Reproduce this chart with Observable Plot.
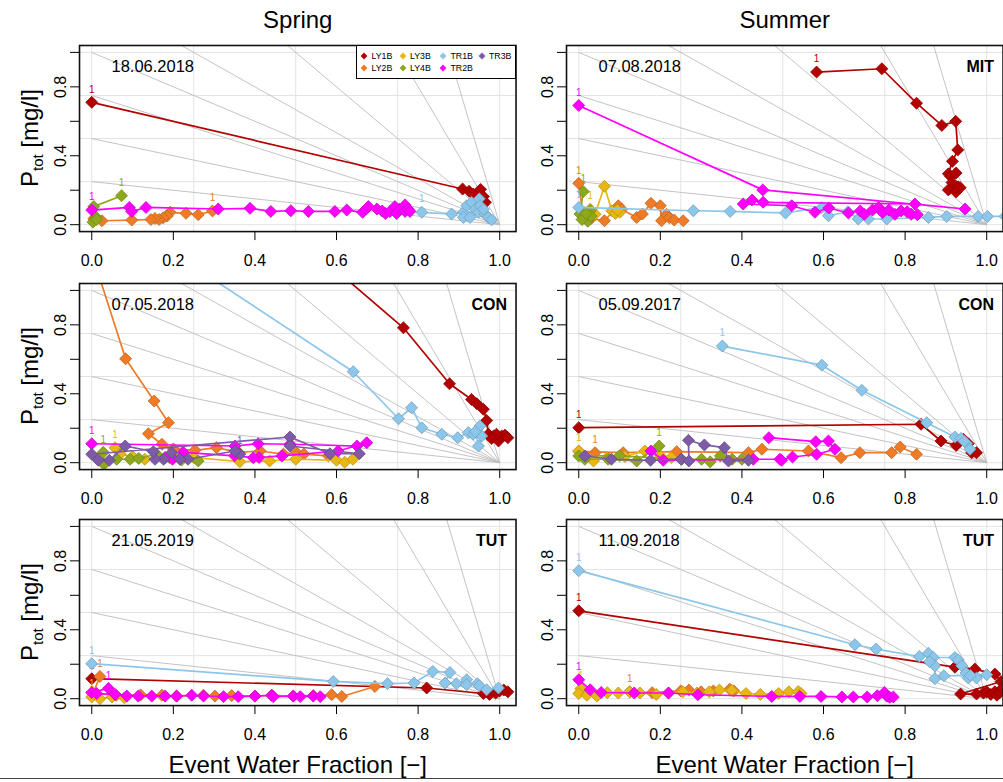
<!DOCTYPE html>
<html><head><meta charset="utf-8">
<script src="https://cdn.jsdelivr.net/npm/d3@7"></script>
<script src="https://cdn.jsdelivr.net/npm/@observablehq/plot@0.6"></script>
<style>
html,body{margin:0;padding:0;background:#fff;}
#root{position:relative;width:1003px;height:782px;overflow:hidden;font-family:"Liberation Sans",Arial,sans-serif;color:#000;}
.abs{position:absolute;white-space:nowrap;}
.coltitle{font-size:24px;transform:translate(-50%,-50%);}
.ytitle{font-size:24px;transform:translate(-50%,-50%) rotate(-90deg);}
.ytitle sub{font-size:15px;vertical-align:-5px;}
.legend{box-sizing:border-box;border:1.5px solid #000;background:#fff;}
.legend span{position:absolute;font-size:8.8px;transform:translateY(-50%);}
</style></head><body><div id="root"></div>
<script>
// ---------------- data ----------------
const seriesNames  = ["LY1B","LY2B","LY3B","LY4B","TR1B","TR2B","TR3B"];
const seriesColors = ["#b30000","#ef7b27","#e8b714","#8ea81e","#8cc6ea","#ff00ff","#7d5ba6"];
const concLines = [0.25, 0.5, 0.75, 1, 4/3, 2, 4, 8];
const xTicks = [0, 0.2, 0.4, 0.6, 0.8, 1.0];
const yTicks = [0, 0.2, 0.4, 0.6, 0.8, 1.0];
const yLabelTicks = [0, 0.4, 0.8];
const gridTicks = [0, 0.25, 0.5, 0.75, 1];
const seasons = ["Spring", "Summer"];
const xTitle = "Event Water Fraction [−]";

const springMIT = [
 ["LY1B",0.000,0.710],["LY1B",0.909,0.207],["LY1B",0.925,0.194],["LY1B",0.935,0.178],["LY1B",0.953,0.205],["LY1B",0.960,0.163],["LY1B",0.965,0.130],
 ["LY2B",0.296,0.080],["LY2B",0.261,0.058],["LY2B",0.231,0.066],["LY2B",0.192,0.072],["LY2B",0.185,0.050],["LY2B",0.175,0.040],["LY2B",0.165,0.030],["LY2B",0.155,0.036],["LY2B",0.145,0.030],["LY2B",0.098,0.027],["LY2B",0.025,0.023],["LY2B",0.005,0.035],
 ["LY4B",0.073,0.168],["LY4B",0.005,0.105],["LY4B",0.010,0.045],["LY4B",0.003,0.015],["LY4B",0.012,0.030],
 ["TR1B",0.809,0.072],["TR1B",0.882,0.062],["TR1B",0.911,0.072],["TR1B",0.919,0.110],["TR1B",0.931,0.130],["TR1B",0.950,0.150],["TR1B",0.940,0.090],["TR1B",0.911,0.042],["TR1B",0.927,0.042],["TR1B",0.948,0.072],["TR1B",0.964,0.062],["TR1B",0.972,0.042],["TR1B",0.980,0.028],["TR1B",0.952,0.110],["TR1B",0.960,0.090],
 ["TR2B",0.000,0.085],["TR2B",0.092,0.100],["TR2B",0.098,0.077],["TR2B",0.133,0.100],["TR2B",0.310,0.091],["TR2B",0.388,0.095],["TR2B",0.439,0.077],["TR2B",0.488,0.081],["TR2B",0.531,0.077],["TR2B",0.596,0.077],["TR2B",0.625,0.085],["TR2B",0.664,0.072],["TR2B",0.672,0.090],["TR2B",0.678,0.105],["TR2B",0.699,0.091],["TR2B",0.712,0.080],["TR2B",0.720,0.065],["TR2B",0.731,0.077],["TR2B",0.743,0.105],["TR2B",0.747,0.065],["TR2B",0.755,0.090],["TR2B",0.768,0.115],["TR2B",0.768,0.077],["TR2B",0.776,0.090],["TR2B",0.780,0.077]
];

const summerMIT = [
 ["LY1B",0.583,0.886],["LY1B",0.743,0.905],["LY1B",0.828,0.705],["LY1B",0.890,0.576],["LY1B",0.924,0.600],["LY1B",0.929,0.434],["LY1B",0.916,0.368],["LY1B",0.906,0.295],["LY1B",0.912,0.280],["LY1B",0.925,0.300],["LY1B",0.915,0.245],["LY1B",0.906,0.202],["LY1B",0.930,0.220],["LY1B",0.925,0.190],["LY1B",0.935,0.215],
 ["LY2B",0.000,0.240],["LY2B",0.010,0.060],["LY2B",0.030,0.035],["LY2B",0.063,0.023],["LY2B",0.097,0.110],["LY2B",0.105,0.090],["LY2B",0.142,0.042],["LY2B",0.156,0.062],["LY2B",0.177,0.124],["LY2B",0.200,0.110],["LY2B",0.203,0.023],["LY2B",0.215,0.060],["LY2B",0.222,0.040],["LY2B",0.234,0.027],["LY2B",0.256,0.023],
 ["LY3B",0.028,0.090],["LY3B",0.040,0.060],["LY3B",0.063,0.223],["LY3B",0.081,0.081],["LY3B",0.090,0.065],["LY3B",0.101,0.072],["LY3B",0.095,0.085],
 ["LY4B",0.011,0.192],["LY4B",0.003,0.062],["LY4B",0.015,0.042],["LY4B",0.028,0.081],["LY4B",0.022,0.020],["LY4B",0.030,0.050],["LY4B",0.008,0.030],["LY4B",0.018,0.065],
 ["TR1B",0.000,0.100],["TR1B",0.281,0.081],["TR1B",0.371,0.077],["TR1B",0.507,0.068],["TR1B",0.596,0.100],["TR1B",0.612,0.052],["TR1B",0.660,0.075],["TR1B",0.685,0.033],["TR1B",0.710,0.033],["TR1B",0.755,0.033],["TR1B",0.857,0.042],["TR1B",0.902,0.048],["TR1B",0.979,0.048],["TR1B",1.002,0.048],["TR1B",1.045,0.048],
 ["TR2B",0.000,0.692],["TR2B",0.451,0.202],["TR2B",0.947,0.091],["TR2B",0.824,0.120],["TR2B",0.452,0.130],["TR2B",0.425,0.143],["TR2B",0.403,0.120],["TR2B",0.522,0.110],["TR2B",0.579,0.072],["TR2B",0.613,0.097],["TR2B",0.661,0.068],["TR2B",0.690,0.080],["TR2B",0.700,0.060],["TR2B",0.720,0.085],["TR2B",0.735,0.100],["TR2B",0.745,0.070],["TR2B",0.760,0.085],["TR2B",0.775,0.060],["TR2B",0.790,0.080],["TR2B",0.805,0.075],["TR2B",0.815,0.060],["TR2B",0.830,0.058]
];

const springCON = [
 ["LY1B",0.000,2.330],["LY1B",0.764,0.783],["LY1B",0.877,0.458],["LY1B",0.931,0.367],["LY1B",0.944,0.342],["LY1B",0.960,0.310],["LY1B",0.968,0.245],["LY1B",0.972,0.165],["LY1B",0.985,0.155],["LY1B",0.997,0.126],["LY1B",1.005,0.155],["LY1B",1.013,0.160],["LY1B",0.992,0.165],["LY1B",0.980,0.140],["LY1B",1.020,0.145],
 ["LY2B",0.000,1.216],["LY2B",0.083,0.603],["LY2B",0.153,0.358],["LY2B",0.188,0.232],["LY2B",0.139,0.168],["LY2B",0.172,0.107],["LY2B",0.200,0.080],["LY2B",0.253,0.072],["LY2B",0.306,0.087],["LY2B",0.360,0.060],["LY2B",0.413,0.068],["LY2B",0.470,0.050],["LY2B",0.502,0.058],["LY2B",0.520,0.050],["LY2B",0.580,0.040],
 ["LY3B",0.057,0.087],["LY3B",0.070,0.050],["LY3B",0.100,0.035],["LY3B",0.130,0.020],["LY3B",0.200,0.040],["LY3B",0.250,0.030],["LY3B",0.363,0.006],["LY3B",0.436,0.010],["LY3B",0.500,0.020],["LY3B",0.600,0.014],["LY3B",0.620,0.003],["LY3B",0.640,0.020],
 ["LY4B",0.028,0.060],["LY4B",0.030,-0.010],["LY4B",0.061,0.020],["LY4B",0.094,0.020],["LY4B",0.115,0.025],["LY4B",0.159,0.049],["LY4B",0.190,0.030],["LY4B",0.220,0.015],["LY4B",0.261,0.010],
 ["TR1B",0.000,1.529],["TR1B",0.641,0.528],["TR1B",0.752,0.255],["TR1B",0.784,0.319],["TR1B",0.809,0.203],["TR1B",0.858,0.165],["TR1B",0.897,0.145],["TR1B",0.923,0.174],["TR1B",0.935,0.165],["TR1B",0.952,0.213],["TR1B",0.956,0.155],["TR1B",0.948,0.097],["TR1B",0.940,0.180],
 ["TR2B",0.000,0.110],["TR2B",0.351,0.097],["TR2B",0.408,0.110],["TR2B",0.486,0.107],["TR2B",0.650,0.097],["TR2B",0.674,0.116],["TR2B",0.604,0.068],["TR2B",0.466,0.039],["TR2B",0.410,0.030],["TR2B",0.396,0.029],["TR2B",0.350,0.040],["TR2B",0.224,0.060],["TR2B",0.198,0.020],["TR2B",0.180,0.030],
 ["TR3B",0.363,0.050],["TR3B",0.351,0.068],["TR3B",0.236,0.020],["TR3B",0.216,0.020],["TR3B",0.196,0.058],["TR3B",0.176,0.020],["TR3B",0.155,0.020],["TR3B",0.151,0.064],["TR3B",0.082,0.097],["TR3B",0.043,0.014],["TR3B",0.016,0.014],["TR3B",0.000,0.049],["TR3B",0.486,0.149],["TR3B",0.584,0.052],["TR3B",0.656,0.052],["TR3B",0.486,0.097]
];

const summerCON = [
 ["LY1B",0.000,0.203],["LY1B",0.839,0.223],["LY1B",0.888,0.126],["LY1B",0.925,0.100],["LY1B",0.943,0.136],["LY1B",0.955,0.110],["LY1B",0.963,0.058],["LY1B",0.975,0.058],
 ["LY2B",0.040,0.058],["LY2B",0.000,0.066],["LY2B",0.109,0.058],["LY2B",0.240,0.064],["LY2B",0.416,0.058],["LY2B",0.449,0.078],["LY2B",0.563,0.068],["LY2B",0.643,0.029],["LY2B",0.689,0.058],["LY2B",0.767,0.058],["LY2B",0.788,0.091],["LY2B",0.828,0.049],
 ["LY3B",0.000,0.068],["LY3B",0.036,0.010],["LY3B",0.070,0.030],["LY3B",0.113,0.036],["LY3B",0.162,0.068],["LY3B",0.200,0.040],["LY3B",0.227,0.030],
 ["LY4B",0.197,0.097],["LY4B",0.142,0.010],["LY4B",0.072,0.020],["LY4B",0.015,0.020],["LY4B",0.000,0.039],["LY4B",0.100,0.040],["LY4B",0.252,0.020],["LY4B",0.301,0.020],["LY4B",0.322,0.005],["LY4B",0.347,0.039],["LY4B",0.376,0.020],["LY4B",0.400,0.020],
 ["TR1B",0.352,0.677],["TR1B",0.596,0.566],["TR1B",0.694,0.420],["TR1B",0.853,0.232],["TR1B",0.922,0.149],["TR1B",0.937,0.141],["TR1B",0.951,0.110],["TR1B",0.959,0.078],["TR1B",0.945,0.125],
 ["TR2B",0.177,0.068],["TR2B",0.207,0.014],["TR2B",0.428,0.020],["TR2B",0.493,0.020],["TR2B",0.497,0.014],["TR2B",0.524,0.033],["TR2B",0.583,0.049],["TR2B",0.628,0.078],["TR2B",0.612,0.126],["TR2B",0.581,0.122],["TR2B",0.466,0.145],
 ["TR3B",0.015,0.039],["TR3B",0.080,0.020],["TR3B",0.176,0.014],["TR3B",0.251,0.020],["TR3B",0.270,0.010],["TR3B",0.269,0.130],["TR3B",0.308,0.103],["TR3B",0.357,0.087],["TR3B",0.367,0.010],["TR3B",0.416,0.014]
];

const springTUT = [
 ["LY1B",0.000,0.116],["LY1B",0.821,0.062],["LY1B",0.960,0.030],["LY1B",0.975,0.025],["LY1B",0.990,0.033],["LY1B",1.000,0.045],["LY1B",1.010,0.050],["LY1B",1.020,0.040],
 ["LY2B",0.020,0.129],["LY2B",0.003,0.030],["LY2B",0.060,0.020],["LY2B",0.120,0.022],["LY2B",0.172,0.020],["LY2B",0.208,0.015],["LY2B",0.274,0.020],["LY2B",0.302,0.015],["LY2B",0.343,0.018],["LY2B",0.400,0.015],["LY2B",0.441,0.020],["LY2B",0.494,0.015],["LY2B",0.543,0.018],["LY2B",0.588,0.023],["LY2B",0.613,0.013],["LY2B",0.694,0.071],
 ["LY3B",0.000,0.010],["LY3B",0.020,0.000],["LY3B",0.050,0.010],["LY3B",0.080,0.005],
 ["TR1B",0.000,0.203],["TR1B",0.592,0.100],["TR1B",0.725,0.087],["TR1B",0.790,0.091],["TR1B",0.836,0.158],["TR1B",0.878,0.152],["TR1B",0.866,0.091],["TR1B",0.894,0.087],["TR1B",0.919,0.110],["TR1B",0.919,0.081],["TR1B",0.945,0.087],["TR1B",0.950,0.075],["TR1B",0.968,0.052],["TR1B",0.997,0.062],
 ["TR2B",0.041,0.060],["TR2B",0.000,0.036],["TR2B",0.012,0.030],["TR2B",0.057,0.025],["TR2B",0.086,0.015],["TR2B",0.114,0.015],["TR2B",0.147,0.015],["TR2B",0.180,0.015],["TR2B",0.208,0.015],["TR2B",0.245,0.020],["TR2B",0.274,0.015],["TR2B",0.323,0.012],["TR2B",0.359,0.012],["TR2B",0.400,0.015],["TR2B",0.441,0.020],["TR2B",0.445,0.012],["TR2B",0.494,0.015],["TR2B",0.511,0.012],["TR2B",0.543,0.015],["TR2B",0.560,0.012]
];

const summerTUT = [
 ["LY1B",0.000,0.510],["LY1B",0.922,0.183],["LY1B",0.971,0.172],["LY1B",1.020,0.143],["LY1B",1.035,0.100],["LY1B",0.936,0.027],["LY1B",0.975,0.027],["LY1B",0.992,0.033],["LY1B",1.000,0.040],["LY1B",1.010,0.025],["LY1B",1.020,0.040],["LY1B",1.025,0.020],["LY1B",1.032,0.035],["LY1B",1.038,0.060],
 ["LY2B",0.125,0.040],["LY2B",0.180,0.035],["LY2B",0.250,0.045],["LY2B",0.270,0.050],["LY2B",0.300,0.040],["LY2B",0.330,0.045],["LY2B",0.370,0.055],["LY2B",0.380,0.045],
 ["LY3B",0.005,0.058],["LY3B",0.000,0.030],["LY3B",0.020,0.020],["LY3B",0.045,0.015],["LY3B",0.070,0.035],["LY3B",0.097,0.033],["LY3B",0.125,0.040],["LY3B",0.150,0.033],["LY3B",0.190,0.025],["LY3B",0.220,0.033],["LY3B",0.255,0.040],["LY3B",0.290,0.033],["LY3B",0.320,0.040],["LY3B",0.345,0.050],["LY3B",0.375,0.048],["LY3B",0.410,0.030],["LY3B",0.445,0.025],["LY3B",0.490,0.030],["LY3B",0.515,0.040],["LY3B",0.538,0.042],["LY3B",0.545,0.030],
 ["TR1B",0.000,0.743],["TR1B",0.677,0.313],["TR1B",0.729,0.288],["TR1B",0.835,0.245],["TR1B",0.857,0.264],["TR1B",0.869,0.239],["TR1B",0.922,0.239],["TR1B",0.930,0.225],["TR1B",0.939,0.191],["TR1B",0.949,0.149],["TR1B",0.955,0.120],["TR1B",0.975,0.120],["TR1B",1.000,0.139],["TR1B",0.960,0.135],["TR1B",0.895,0.133],["TR1B",0.873,0.116],["TR1B",0.873,0.191],["TR1B",0.860,0.215],
 ["TR2B",0.000,0.110],["TR2B",0.028,0.052],["TR2B",0.055,0.036],["TR2B",0.136,0.033],["TR2B",0.220,0.033],["TR2B",0.292,0.023],["TR2B",0.473,0.013],["TR2B",0.542,0.013],["TR2B",0.594,0.013],["TR2B",0.645,0.010],["TR2B",0.673,0.010],["TR2B",0.707,0.010],["TR2B",0.732,0.017],["TR2B",0.749,0.036],["TR2B",0.755,0.015],["TR2B",0.762,0.008],["TR2B",0.771,0.010]
];

const panelDates = ["18.06.2018","07.08.2018","07.05.2018","05.09.2017","21.05.2019","11.09.2018"];
const panelSites = ["","MIT","CON","CON","TUT","TUT"];
const panelData  = [springMIT, summerMIT, springCON, summerCON, springTUT, summerTUT];
const noFirstLabel = [[],[],[],["TR2B","TR3B"],[],[]];

// ---------------- layout ----------------
const root = document.getElementById("root");
const FONT = '"Liberation Sans", Arial, sans-serif';
const FW = 436.56, FH = 186.1;          // frame size
const colLeft = [79.46, 566.46];
const rowTop = [45.0, 282.5, 519.4];
const mL = 50, mR = 0, mT = 2, mB = 50;

function addDiv(cls, html, left, top) {
  const d = document.createElement("div");
  d.className = "abs " + cls;
  d.innerHTML = html;
  d.style.left = left + "px"; d.style.top = top + "px";
  root.appendChild(d);
  return d;
}

panelData.forEach((data, i) => {
  const col = i % 2, row = Math.floor(i / 2);
  const rows = data.map(([s, x, y]) => ({s, x, y}));
  const marks = [
    Plot.gridX(gridTicks, {stroke: "#e3e3e3", strokeOpacity: 1, strokeWidth: 1}),
    Plot.gridY(gridTicks, {stroke: "#e3e3e3", strokeOpacity: 1, strokeWidth: 1}),
    Plot.link(concLines, {x1: () => 0, y1: d => d, x2: () => 1, y2: () => 0,
      stroke: "#bcbcbc", strokeWidth: 0.9, clip: true})
  ];
  seriesNames.forEach((name, k) => {
    const d = rows.filter(r => r.s === name);
    if (!d.length) return;
    const c = seriesColors[k];
    const dark = d3.color(c).darker(0.6).formatHex();
    marks.push(Plot.line(d, {x: "x", y: "y", stroke: c, strokeWidth: 1.7, clip: true}));
    marks.push(Plot.dot(d, {x: "x", y: "y", symbol: "diamond2", r: 5.4, fill: c,
      stroke: dark, strokeWidth: 0.8, clip: true}));
    if (!noFirstLabel[i].includes(name))
      marks.push(Plot.text(d.slice(0, 1), {x: "x", y: "y", text: () => "1", dy: -13,
        fill: c, fontSize: 10, clip: true}));
  });
  marks.push(
    Plot.frame({stroke: "#111", strokeWidth: 1.6}),
    Plot.axisX(xTicks, {tickFormat: d3.format(".1f"), tickSize: 9, tickPadding: 14,
      fontSize: 16, label: null}),
    Plot.axisY(yTicks, {tickSize: 9, tickFormat: () => "", label: null}),
    Plot.text(yLabelTicks, {y: d => d, text: d => d.toFixed(1), frameAnchor: "left",
      rotate: -90, textAnchor: "middle", lineAnchor: "bottom", dx: -14, fontSize: 16}),
    Plot.text([panelDates[i]], {text: d => d, frameAnchor: "top-left", dx: 32, dy: 21,
      textAnchor: "start", lineAnchor: "middle", fontSize: 16.5})
  );
  if (panelSites[i])
    marks.push(Plot.text([panelSites[i]], {text: d => d, frameAnchor: "top-right", dx: -9,
      dy: 21, textAnchor: "end", lineAnchor: "middle", fontSize: 16, fontWeight: "bold"}));

  const svg = Plot.plot({
    width: mL + FW + mR, height: mT + FH + mB,
    marginLeft: mL, marginRight: mR, marginTop: mT, marginBottom: mB,
    x: {domain: [-0.03, 1.04]},
    y: {domain: [-0.04, 1.04]},
    style: {background: "transparent", overflow: "visible", fontFamily: FONT,
      fontSize: "16px", color: "#000", maxWidth: "none"},
    marks
  });
  svg.style.position = "absolute";
  svg.style.left = (colLeft[col] - mL) + "px";
  svg.style.top = (rowTop[row] - mT) + "px";
  root.appendChild(svg);

  if (col === 0)
    addDiv("ytitle", "P<sub>tot</sub> [mg/l]", 31, rowTop[row] + FH / 2);
});

// column titles and x titles
seasons.forEach((s, c) => {
  addDiv("coltitle", s, colLeft[c] + FW / 2, 20);
  addDiv("coltitle", xTitle, colLeft[c] + FW / 2, 765);
});

// legend
const lg = addDiv("legend", "", 356, rowTop[0]);
lg.style.width = (colLeft[0] + FW - 356) + "px";
lg.style.height = "34px";
const legX = [7, 45.5, 86, 124.5], legY = [10, 21.5];
seriesNames.forEach((name, k) => {
  const cx = legX[Math.floor(k / 2)], cy = legY[k % 2];
  const sym = document.createElementNS("http://www.w3.org/2000/svg", "svg");
  sym.setAttribute("width", 8); sym.setAttribute("height", 8);
  sym.style.position = "absolute";
  sym.style.left = (cx - 4) + "px"; sym.style.top = (cy - 4) + "px";
  sym.innerHTML = `<path d="M4,0.6L7.4,4L4,7.4L0.6,4Z" fill="${seriesColors[k]}"/>`;
  lg.appendChild(sym);
  const t = document.createElement("span");
  t.textContent = name;
  t.style.left = (cx + 7.5) + "px"; t.style.top = cy + "px";
  lg.appendChild(t);
});

// bottom rule
const rule = addDiv("", "", 0, 778);
rule.style.width = "1003px"; rule.style.height = "1px"; rule.style.background = "#444";
</script>
</body></html>
